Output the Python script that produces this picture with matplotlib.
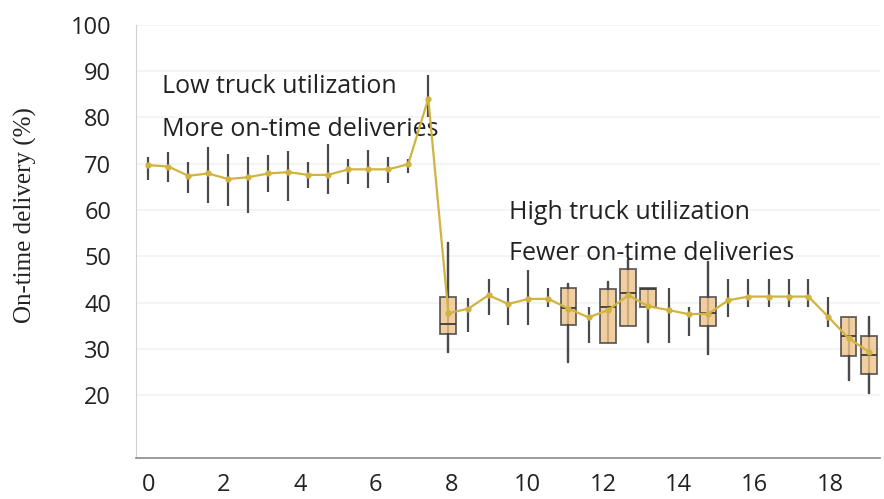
import matplotlib.pyplot as plt

# position of each sample along the x axis
x = [0.00, 0.53, 1.06, 1.58, 2.11, 2.64, 3.17, 3.70, 4.22, 4.75,
     5.28, 5.81, 6.34, 6.86, 7.39, 7.92, 8.45, 8.98, 9.50, 10.03,
     10.56, 11.09, 11.62, 12.14, 12.67, 13.20, 13.73, 14.26, 14.78, 15.31,
     15.84, 16.37, 16.90, 17.42, 17.95, 18.48, 19.01]

# mean on-time delivery (%)
mean = [69.7, 69.4, 67.4, 67.9, 66.7, 67.1, 67.9, 68.2, 67.6, 67.6,
        68.8, 68.8, 68.8, 69.9, 84.1, 37.7, 38.7, 41.6, 39.7, 40.8,
        40.8, 38.7, 36.8, 38.4, 41.6, 39.2, 38.4, 37.5, 37.6, 40.5,
        41.3, 41.3, 41.3, 41.3, 36.9, 32.3, 29.4]

# range of each vertical bar
low = [66.6, 66.0, 63.6, 61.6, 60.9, 59.4, 64.0, 62.0, 64.7, 63.5,
       65.6, 64.7, 65.9, 67.9, 80.2, 29.4, 33.7, 37.3, 35.1, 35.1,
       39.0, 27.2, 31.2, 31.2, 35.0, 31.5, 31.2, 32.8, 29.0, 36.9,
       39.1, 39.1, 39.1, 39.1, 34.8, 23.2, 20.4]
high = [71.5, 72.5, 70.3, 73.6, 72.1, 71.4, 71.9, 72.8, 70.4, 74.3,
        71.0, 73.0, 71.4, 71.0, 89.2, 52.8, 40.9, 45.2, 43.1, 47.0,
        43.1, 44.1, 39.1, 44.5, 49.2, 43.1, 43.1, 39.1, 48.8, 45.2,
        45.2, 45.2, 45.2, 45.2, 41.3, 36.9, 36.8]

# samples that also get a box (index, q1, median, q3)
box_idx = [15, 21, 23, 24, 25, 28, 35, 36]
box_q1 = [33.3, 35.1, 31.2, 35.0, 39.1, 35.0, 28.4, 24.5]
box_med = [35.3, 38.9, 39.0, 42.0, 42.9, 37.7, 32.8, 28.6]
box_q3 = [41.3, 43.1, 42.9, 47.2, 43.1, 41.3, 36.9, 32.8]

yticks = [20, 30, 40, 50, 60, 70, 80, 90, 100]
xticks = [0, 2, 4, 6, 8, 10, 12, 14, 16, 18]

line_color = '#d0b340'
bar_color = '#4a4a4a'
txt_font = ['Open Sans', 'DejaVu Sans']

fig = plt.figure(figsize=(8.84, 4.99), dpi=100)
ax = fig.add_axes([0.154, 0.082, 0.841, 0.868])

# faint grid
for v in yticks:
    ax.axhline(v, color='#f2f2f2', lw=1.2, zorder=0)

# vertical range bars
ax.vlines(x, low, high, color=bar_color, lw=1.6, zorder=2)

# boxes
stats = []
for i, q1, med, q3 in zip(box_idx, box_q1, box_med, box_q3):
    stats.append({'q1': q1, 'med': med, 'q3': q3,
                  'whislo': low[i], 'whishi': high[i], 'fliers': []})
ax.bxp(stats, positions=[x[i] for i in box_idx], widths=0.42,
       showcaps=False, patch_artist=True, manage_ticks=False,
       boxprops=dict(facecolor='#eec48a', edgecolor='#3c3c3c', lw=1.3, alpha=0.8),
       medianprops=dict(color='#3c3c3c', lw=1.3),
       whiskerprops=dict(color=bar_color, lw=1.6), zorder=3)

# mean line
ax.plot(x, mean, color=line_color, lw=1.6, marker='o', ms=3.5, zorder=4)

ax.text(0.37, 86.6, 'Low truck utilization', fontsize=18, family=txt_font,
        color='#222222', va='center', ha='left')
ax.text(0.37, 77.3, 'More on-time deliveries', fontsize=18, family=txt_font,
        color='#222222', va='center', ha='left')
ax.text(9.52, 59.4, 'High truck utilization', fontsize=18, family=txt_font,
        color='#222222', va='center', ha='left')
ax.text(9.52, 50.7, 'Fewer on-time deliveries', fontsize=18, family=txt_font,
        color='#222222', va='center', ha='left')

ax.set_xlim(-0.32, 19.3)
ax.set_ylim(6.4, 100)
ax.set_xticks(xticks)
ax.set_yticks(yticks)
ax.tick_params(length=0, labelsize=17)
ax.tick_params(axis='x', pad=11)
ax.tick_params(axis='y', pad=18)
for lab in ax.get_xticklabels() + ax.get_yticklabels():
    lab.set_family(txt_font)
    lab.set_color('#222222')

ax.set_ylabel('On-time delivery (%)', fontsize=18, family='Liberation Serif',
              color='#222222')
ax.yaxis.set_label_coords(-0.133, 0.56)

ax.spines['top'].set_visible(False)
ax.spines['right'].set_visible(False)
ax.spines['left'].set_color('#d0d0d0')
ax.spines['bottom'].set_color('#8a8a8a')
ax.spines['bottom'].set_linewidth(1.2)

fig.savefig('out.png', dpi=100)
